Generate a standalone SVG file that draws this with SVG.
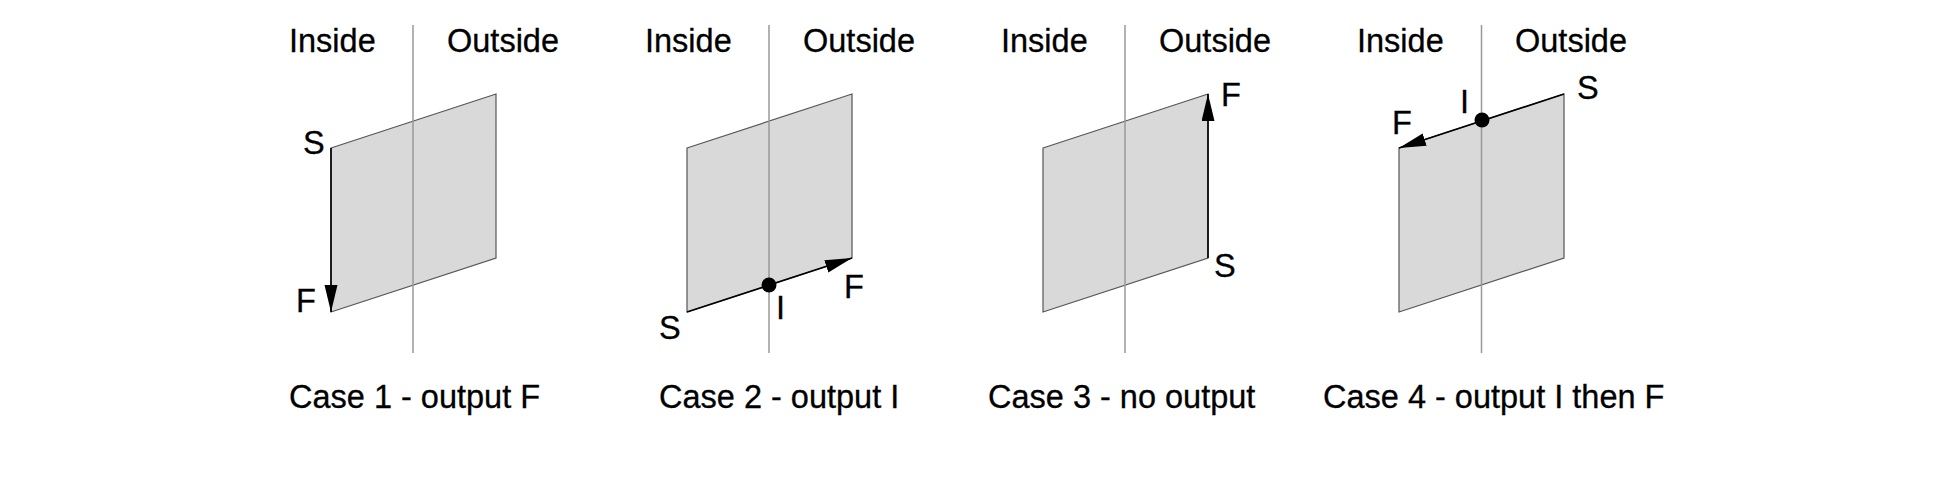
<svg xmlns="http://www.w3.org/2000/svg" width="1946" height="478" viewBox="0 0 1946 478">
<style>
text{font-family:"Liberation Sans",Arial,sans-serif;font-size:32.5px;fill:#000;stroke:#000;stroke-width:0.3}
.sheet{fill:#d9d9d9;stroke:#555;stroke-width:1.2}
.div{stroke:#999;stroke-width:1.5;fill:none}
.arrow{stroke:#000;stroke-width:1.6;fill:none;marker-end:url(#ah)}
.dot{fill:#000}
</style>
<defs>
<marker id="ah" markerUnits="userSpaceOnUse" markerWidth="28" markerHeight="14" refX="27" refY="6.5" orient="auto">
<path d="M0,0 L27,6.5 L0,13 z" fill="#000"/>
</marker>
</defs>
<rect width="1946" height="478" fill="#fff"/>
<g id="case1">
<polygon class="sheet" points="331,148 496,94 496,258 331,312"/>
<line class="div" x1="413" y1="25" x2="413" y2="353"/>
<text x="289" y="52">Inside</text>
<text x="447" y="52">Outside</text>
<text x="303" y="154">S</text>
<text x="296" y="312">F</text>
<text x="289" y="408">Case 1 - output F</text>
</g>
<g id="case2">
<polygon class="sheet" points="687,148 852,94 852,258 687,312"/>
<line class="div" x1="769" y1="25" x2="769" y2="353"/>
<text x="645" y="52">Inside</text>
<text x="803" y="52">Outside</text>
<text x="659" y="339">S</text>
<text x="776" y="319">I</text>
<text x="844" y="298">F</text>
<text x="659" y="408">Case 2 - output I</text>
</g>
<g id="case3">
<polygon class="sheet" points="1043,148 1208,94 1208,258 1043,312"/>
<line class="div" x1="1125" y1="25" x2="1125" y2="353"/>
<text x="1001" y="52">Inside</text>
<text x="1159" y="52">Outside</text>
<text x="1221" y="106">F</text>
<text x="1214" y="277">S</text>
<text x="988" y="408">Case 3 - no output</text>
</g>
<g id="case4">
<polygon class="sheet" points="1399,148 1564,94 1564,258 1399,312"/>
<line class="div" x1="1481.5" y1="25" x2="1481.5" y2="353"/>
<text x="1357" y="52">Inside</text>
<text x="1515" y="52">Outside</text>
<text x="1577" y="99">S</text>
<text x="1460" y="113">I</text>
<text x="1392" y="134">F</text>
<text x="1323" y="408">Case 4 - output I then F</text>
</g>
<g id="connectors">
<line class="arrow" x1="331" y1="148" x2="331" y2="312"/>
<line class="arrow" x1="687" y1="312" x2="852" y2="258"/>
<circle class="dot" cx="769" cy="285" r="7.5"/>
<line class="arrow" x1="1208" y1="258" x2="1208" y2="94"/>
<line class="arrow" x1="1564" y1="94" x2="1399" y2="148"/>
<circle class="dot" cx="1482" cy="120" r="7.5"/>
</g>
</svg>
